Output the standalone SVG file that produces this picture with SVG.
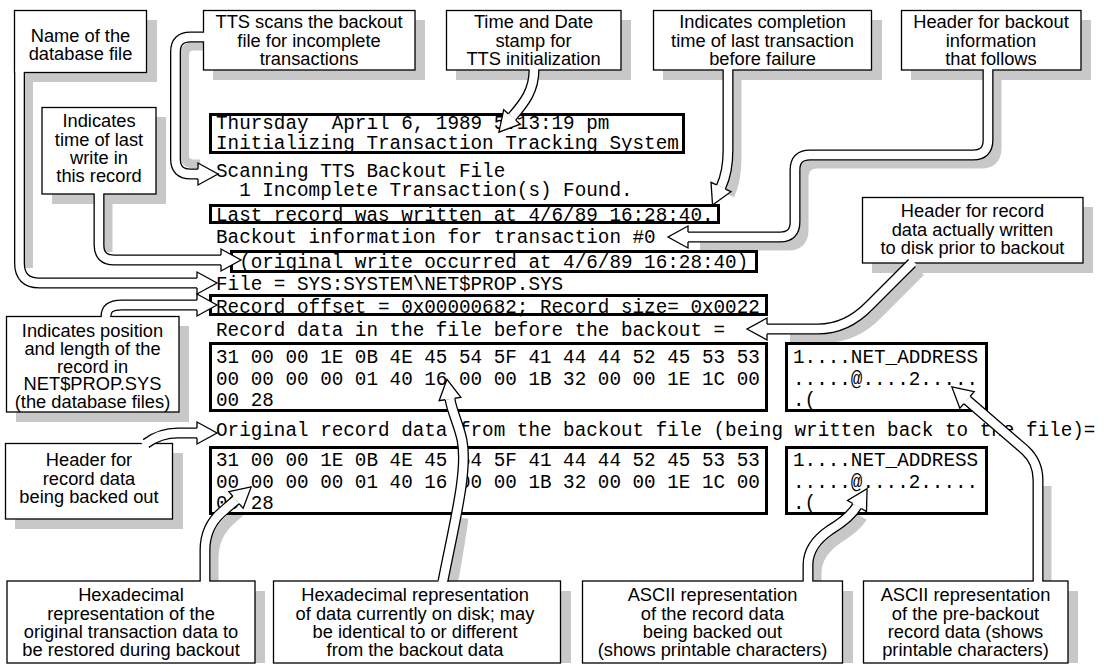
<svg xmlns="http://www.w3.org/2000/svg" width="1105" height="668" viewBox="0 0 1105 668">
<defs>
<style>
.sh{fill:none;stroke:#c8c8c8;stroke-width:11}
.bs{fill:#c8c8c8}
.ao{fill:none;stroke:#000;stroke-width:11}
.ai{fill:none;stroke:#fff;stroke-width:8.4;marker-end:url(#head)}
.box{fill:#fff;stroke:#000;stroke-width:1.3}
.mb{fill:#fff;stroke:#000;stroke-width:3}
.lbl{font-family:"Liberation Sans",Arial,Helvetica,sans-serif;font-size:18.3px;text-anchor:middle;fill:#000}
.mono{font-family:"Liberation Mono","Courier New",monospace;font-size:19.3px;fill:#000;white-space:pre}
</style>
<!-- open arrowhead: base sits on the shaft end, shaft interior flows into it -->
<marker id="head" markerUnits="userSpaceOnUse" orient="auto" refX="0" refY="0" markerWidth="26" markerHeight="28" viewBox="-3 -14 26 28" overflow="visible">
<path d="M0,-4.9 L0,-11 L20,0 L0,11 L0,4.9" fill="#fff" stroke="#000" stroke-width="1.3"/>
</marker>
</defs>

<rect width="1105" height="668" fill="#fff"/>

<!-- drop shadows of callouts and arrow shafts -->
<g id="shadows">
<rect class="bs" x="24" y="20" width="133" height="62"/>
<rect class="bs" x="213" y="20" width="212" height="60"/>
<rect class="bs" x="456" y="20" width="175" height="60"/>
<rect class="bs" x="663" y="20" width="219" height="60"/>
<rect class="bs" x="911" y="20" width="180" height="60"/>
<rect class="bs" x="52" y="117" width="114" height="87"/>
<rect class="bs" x="16" y="326" width="173" height="96"/>
<rect class="bs" x="15" y="453" width="168" height="76"/>
<rect class="bs" x="17" y="591" width="248" height="72"/>
<rect class="bs" x="283" y="591" width="288" height="72"/>
<rect class="bs" x="592" y="591" width="261" height="72"/>
<rect class="bs" x="873" y="591" width="205" height="72"/>
<rect class="bs" x="872" y="207" width="221" height="66"/>
<path class="sh" style="stroke-width:9" d="M205,46 H194 Q184.5,46 184.5,56 V155 Q184.5,164 194,164 H200"/>
<path class="sh" d="M736,78 V158 Q736,180 729,195"/>
<path class="sh" d="M996,78 V148 Q996,163 981,163 H818 Q803,163 803,178 V230 Q803,245 788,245 H700"/>
<path class="sh" d="M27.5,80 V268"/>
<path class="sh" d="M107,201 V252"/>
<path class="sh" d="M920,271 L878,313 Q855,337 826,337 H790"/>
<path class="sh" d="M213,589 V558 Q213,535 230,520 L240,511"/>
<path class="sh" d="M451,589 Q457,560 463,518"/>
<path class="sh" d="M816,589 V573 Q816,553 838,538 Q856,527 862,517"/>
<path class="sh" d="M1046,589 V486"/>
</g>

<!-- console listing -->
<g id="listing">
<rect class="mb" x="210.5" y="114.5" width="473" height="38"/>
<rect class="mb" x="210.5" y="205.5" width="508" height="17"/>
<rect class="mb" x="231.5" y="251.5" width="525" height="20"/>
<rect class="mb" x="210.5" y="295.5" width="556" height="19"/>
<rect class="mb" x="210.5" y="343.5" width="556" height="67"/>
<rect class="mb" x="210.5" y="447.5" width="556" height="66"/>
<rect class="mb" x="786.5" y="343.5" width="200" height="67"/>
<rect class="mb" x="786.5" y="447.5" width="200" height="66"/>
<g class="mono">
<text x="216" y="129">Thursday&#160;&#160;April 6, 1989 5:13:19 pm</text>
<text x="216" y="148.5">Initializing Transaction Tracking System</text>
<text x="216" y="177">Scanning TTS Backout File</text>
<text x="216" y="196">&#160;&#160;1 Incomplete Transaction(s) Found.</text>
<text x="216" y="221">Last record was written at 4/6/89 16:28:40.</text>
<text x="216" y="243">Backout information for transaction #0</text>
<text x="216" y="268">&#160;&#160;(original write occurred at 4/6/89 16:28:40)</text>
<text x="216" y="290">File = SYS:SYSTEM\NET$PROP.SYS</text>
<text x="216" y="313">Record offset = 0x00000682; Record size= 0x0022</text>
<text x="216" y="336">Record data in the file before the backout =</text>
<text x="216" y="363">31 00 00 1E 0B 4E 45 54 5F 41 44 44 52 45 53 53</text>
<text x="216" y="385">00 00 00 00 01 40 16 00 00 1B 32 00 00 1E 1C 00</text>
<text x="216" y="406">00 28</text>
<text x="793" y="363">1....NET_ADDRESS</text>
<text x="793" y="385">.....@....2.....</text>
<text x="793" y="406">.(</text>
<text x="216" y="436">Original record data from the backout file (being written back to the file)=</text>
<text x="216" y="466">31 00 00 1E 0B 4E 45 54 5F 41 44 44 52 45 53 53</text>
<text x="216" y="488">00 00 00 00 01 40 16 00 00 1B 32 00 00 1E 1C 00</text>
<text x="216" y="509">00 28</text>
<text x="793" y="466">1....NET_ADDRESS</text>
<text x="793" y="488">.....@....2.....</text>
<text x="793" y="509">.(</text>
</g>
</g>

<!-- callouts -->
<g id="c-name">
<rect class="box" x="14.5" y="10.5" width="132" height="62"/>
<text class="lbl" x="80.5" y="42">Name of the</text>
<text class="lbl" x="80.5" y="60">database file</text>
</g>
<g id="c-scan">
<rect class="box" x="203.5" y="10.5" width="211.5" height="59.5"/>
<text class="lbl" x="309" y="28">TTS scans the backout</text>
<text class="lbl" x="309" y="46.5">file for incomplete</text>
<text class="lbl" x="309" y="65">transactions</text>
</g>
<g id="c-stamp">
<rect class="box" x="446.5" y="10.5" width="174.5" height="59.5"/>
<text class="lbl" x="533.5" y="28">Time and Date</text>
<text class="lbl" x="533.5" y="46.5">stamp for</text>
<text class="lbl" x="533.5" y="65">TTS initialization</text>
</g>
<g id="c-completion">
<rect class="box" x="653.5" y="10.5" width="218" height="59.5"/>
<text class="lbl" x="762.5" y="28">Indicates completion</text>
<text class="lbl" x="762.5" y="46.5">time of last transaction</text>
<text class="lbl" x="762.5" y="65">before failure</text>
</g>
<g id="c-header-backout">
<rect class="box" x="901.5" y="10.5" width="179.5" height="59.5"/>
<text class="lbl" x="991" y="28">Header for backout</text>
<text class="lbl" x="991" y="46.5">information</text>
<text class="lbl" x="991" y="65">that follows</text>
</g>
<g id="c-lastwrite">
<rect class="box" x="42" y="107.5" width="114" height="86.5"/>
<text class="lbl" x="99" y="127">Indicates</text>
<text class="lbl" x="99" y="145.5">time of last</text>
<text class="lbl" x="99" y="164">write in</text>
<text class="lbl" x="99" y="182">this record</text>
</g>
<g id="c-position">
<rect class="box" x="6.5" y="316.5" width="172.5" height="95.5"/>
<text class="lbl" x="92.5" y="337">Indicates position</text>
<text class="lbl" x="92.5" y="355">and length of the</text>
<text class="lbl" x="92.5" y="372.5">record in</text>
<text class="lbl" x="92.5" y="390">NET$PROP.SYS</text>
<text class="lbl" x="92.5" y="407.5">(the database files)</text>
</g>
<g id="c-header-out">
<rect class="box" x="5.5" y="443.5" width="167" height="75.5"/>
<text class="lbl" x="89" y="466">Header for</text>
<text class="lbl" x="89" y="484.5">record data</text>
<text class="lbl" x="89" y="502.5">being backed out</text>
</g>
<g id="c-hex-original">
<rect class="box" x="7" y="581" width="248" height="82"/>
<text class="lbl" x="131" y="601">Hexadecimal</text>
<text class="lbl" x="131" y="619.5">representation of the</text>
<text class="lbl" x="131" y="638">original transaction data to</text>
<text class="lbl" x="131" y="656">be restored during backout</text>
</g>
<g id="c-hex-disk">
<rect class="box" x="273.5" y="581" width="287" height="82"/>
<text class="lbl" x="415" y="601">Hexadecimal representation</text>
<text class="lbl" x="415" y="619.5">of data currently on disk; may</text>
<text class="lbl" x="415" y="638">be identical to or different</text>
<text class="lbl" x="415" y="656">from the backout data</text>
</g>
<g id="c-ascii-out">
<rect class="box" x="582.5" y="581" width="260" height="82"/>
<text class="lbl" x="712.5" y="601">ASCII representation</text>
<text class="lbl" x="712.5" y="619.5">of the record data</text>
<text class="lbl" x="712.5" y="638">being backed out</text>
<text class="lbl" x="712.5" y="656">(shows printable characters)</text>
</g>
<g id="c-ascii-pre">
<rect class="box" x="863.5" y="581" width="204.5" height="82"/>
<text class="lbl" x="965.5" y="601">ASCII representation</text>
<text class="lbl" x="965.5" y="619.5">of the pre-backout</text>
<text class="lbl" x="965.5" y="638">record data (shows</text>
<text class="lbl" x="965.5" y="656">printable characters)</text>
</g>
<g id="c-header-disk">
<rect class="box" x="862.5" y="197.5" width="220.5" height="65.5"/>
<text class="lbl" x="972.5" y="217">Header for record</text>
<text class="lbl" x="972.5" y="235.5">data actually written</text>
<text class="lbl" x="972.5" y="254">to disk prior to backout</text>
</g>

<!-- hollow arrows: black outline stroke, white core, open head -->
<g id="connectors">
<path class="ao" d="M203.5,37 H190.5 Q175.5,37 175.5,52 V159 Q175.5,174 190.5,174 H198"/>
<path class="ai" d="M205.5,37 H190.5 Q175.5,37 175.5,52 V159 Q175.5,174 190.5,174 H198"/>

<path class="ao" d="M534,70 C534,90 525,102 512,117"/>
<path class="ai" d="M534,68 V70 C534,90 525,102 512,117"/>

<path class="ao" d="M728,70 V150 Q728,172 721,187"/>
<path class="ai" d="M728,68 V150 Q728,172 721,187"/>

<path class="ao" d="M988,70 V140 Q988,155 973,155 H810 Q795,155 795,170 V222 Q795,237 780,237 H688"/>
<path class="ai" d="M988,68 V140 Q988,155 973,155 H810 Q795,155 795,170 V222 Q795,237 780,237 H688"/>

<path class="ao" d="M19.5,72.5 V263 Q19.5,283 39.5,283 H197"/>
<path class="ai" d="M19.5,70.5 V263 Q19.5,283 39.5,283 H197"/>

<path class="ao" d="M99,194 V245 Q99,260 114,260 H221"/>
<path class="ai" d="M99,192 V245 Q99,260 114,260 H221"/>

<path class="ao" d="M106,316.5 C106,309 110,305 122,305 H197"/>
<path class="ai" d="M106,318.5 V316.5 C106,309 110,305 122,305 H197"/>

<path class="ao" d="M912,263 L870,305 Q847,329 818,329 H767"/>
<path class="ai" d="M913.5,261.5 L912,263 L870,305 Q847,329 818,329 H767"/>

<path class="ao" d="M146,443.5 Q160,433 178,433 H197"/>
<path class="ai" d="M143.5,445.5 L146,443.5 Q160,433 178,433 H197"/>

<path class="ao" d="M205,581 V550 Q205,527 222,512 L236,500"/>
<path class="ai" d="M205,583 V550 Q205,527 222,512 L236,500"/>

<path class="ao" d="M443,581 C455,520 468,470 462,440 C459,425 452,412 450,399"/>
<path class="ai" d="M442.6,583 L443,581 C455,520 468,470 462,440 C459,425 452,412 450,399"/>

<path class="ao" d="M808,581 V565 Q808,545 830,530 Q850,518 857,506"/>
<path class="ai" d="M808,583 V565 Q808,545 830,530 Q850,518 857,506"/>

<path class="ao" d="M1038,581 V480 Q1038,462 1025,450 L967,400"/>
<path class="ai" d="M1038,583 V480 Q1038,462 1025,450 L967,400"/>
</g>
</svg>
